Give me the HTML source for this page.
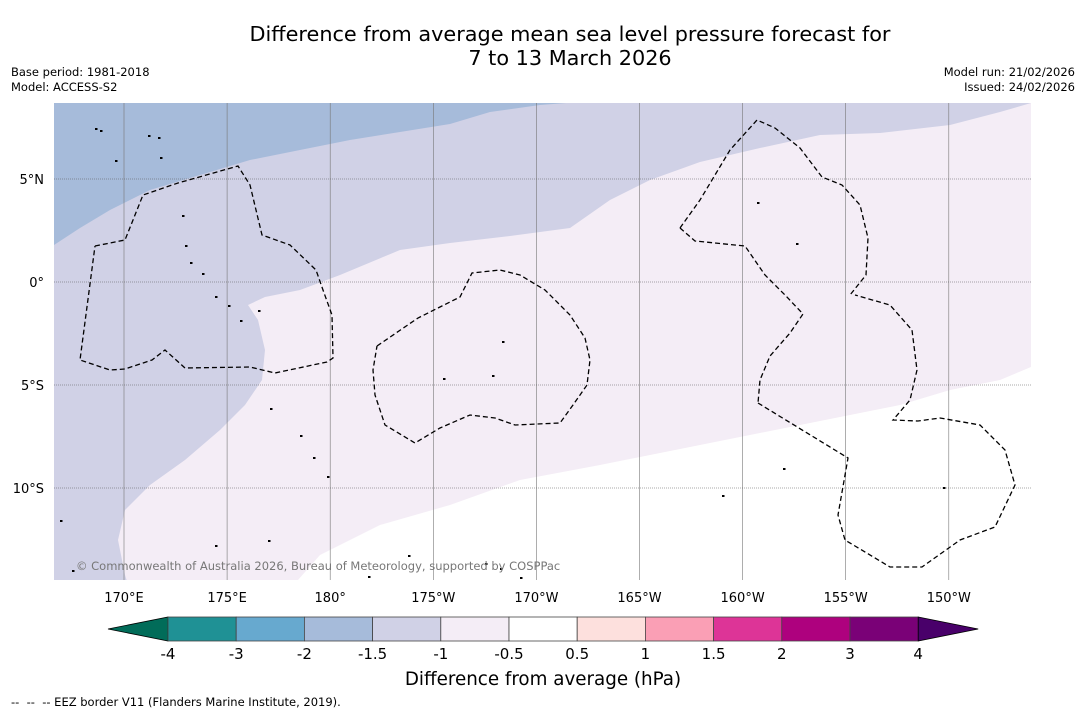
<!DOCTYPE html>
<html><head><meta charset="utf-8"><style>
body{margin:0;background:#fff;font-family:"DejaVu Sans","Liberation Sans",sans-serif;}
#wrap{position:relative;width:1085px;height:713px;overflow:hidden;background:#fff;}
.t{position:absolute;white-space:nowrap;color:#000;}
</style></head><body>
<div id="wrap">
<div class="t" style="left:0;width:1140px;top:22px;font-size:20.8px;text-align:center;line-height:24px;">Difference from average mean sea level pressure forecast for<br>7 to 13 March 2026</div>
<div class="t" style="left:11px;top:65px;font-size:11.5px;line-height:15px;">Base period: 1981-2018<br>Model: ACCESS-S2</div>
<div class="t" style="right:10px;top:65px;font-size:11.5px;line-height:15px;text-align:right;">Model run: 21/02/2026<br>Issued: 24/02/2026</div>
<svg id="svg" width="1085" height="713" style="position:absolute;left:0;top:0"></svg>
<div class="t" style="left:11px;top:695px;font-size:11.5px;">-- &nbsp;-- &nbsp;-- EEZ border V11 (Flanders Marine Institute, 2019).</div>
</div>
<script>
const NS="http://www.w3.org/2000/svg";
const svg=document.getElementById('svg');
const lonTicks=[170,175,180,185,190,195,200,205,210];
const lonLabels=["170°E","175°E","180°","175°W","170°W","165°W","160°W","155°W","150°W"];
const latTicks=[5,0,-5,-10];
const latLabels=["5°N","0°","5°S","10°S"];
const cbLevels=["-4","-3","-2","-1.5","-1","-0.5","0.5","1","1.5","2","3","4"];
const cbColors=["#1f9195","#67a9cf","#a6bbda","#d0d1e6","#f4edf6","#ffffff","#fde0dd","#fa9fb5","#dd3497","#ae017e","#7a0177"];
const cbLow="#016c59", cbHigh="#49006a";
const X0=54,X1=1031,Y0=103,Y1=580;
const sx=lon=>124+(lon-170)*20.62;
const sy=lat=>282-lat*20.6;
function el(tag,attrs,parent){const e=document.createElementNS(NS,tag);for(const k in attrs)e.setAttribute(k,attrs[k]);(parent||svg).appendChild(e);return e;}
const defs=el('defs',{});const cp=el('clipPath',{id:'mc'},defs);el('rect',{x:X0,y:Y0,width:X1-X0,height:Y1-Y0},cp);
const g=el('g',{'clip-path':'url(#mc)'});


// filled contour regions traced in map pixel space
const fills=[
 {c:"#ffffff",p:[[40,600],[1040,600],[1040,90],[40,90]]},
 {c:"#f4edf6",p:[[40,600],[298,600],[298,580],[320,555],[380,525],[450,505],[520,480],[600,465],[700,445],[800,425],[850,415],[900,405],[950,390],[1000,380],[1031,367],[1040,360],[1040,90],[40,90]]},
 {c:"#d0d1e6",p:[[40,600],[133,600],[125,575],[118,540],[125,510],[150,485],[185,460],[220,430],[245,405],[262,380],[265,350],[258,320],[248,305],[265,297],[300,290],[340,275],[400,250],[450,243],[510,236],[570,228],[610,200],[650,180],[700,162],[760,148],[820,135],[880,133],[950,125],[1000,112],[1031,103],[1040,90],[40,90]]},
 {c:"#a6bbda",p:[[40,90],[40,250],[54,245],[80,228],[110,210],[150,190],[200,175],[250,160],[300,150],[350,140],[400,132],[450,124],[490,112],[540,105],[605,100],[605,90]]},
];
fills.forEach((f,i)=>{const pg=el('polygon',{points:f.p.map(q=>q.join(',')).join(' '),fill:f.c},g);

});
lonTicks.forEach((l,i)=>{const ln=el('line',{x1:sx(l),x2:sx(l),y1:Y0,y2:Y1,stroke:'#777','stroke-width':0.6},g);
});
latTicks.forEach(l=>{const ln=el('line',{x1:X0,x2:X1,y1:sy(l),y2:sy(l),stroke:'#555','stroke-width':0.6,'stroke-dasharray':'1,1'},g);
});
const eez=[
 [[95,246],[125,240],[143,195],[178,183],[238,166],[250,185],[262,235],[290,245],[316,270],[323,290],[332,315],[333,358],[327,362],[275,373],[250,367],[185,368],[165,350],[152,360],[125,369],[110,370],[80,360],[95,246]],
 [[377,346],[418,318],[460,297],[472,273],[500,270],[520,275],[545,290],[570,315],[585,338],[590,360],[587,385],[573,405],[560,423],[515,425],[495,418],[470,415],[440,428],[415,443],[385,425],[375,395],[373,370],[377,346]],
 [[680,228],[700,200],[730,150],[757,120],[775,128],[800,148],[822,177],[842,185],[860,205],[868,238],[866,275],[850,295]],
 [[680,228],[695,241],[745,246],[765,275],[785,295],[803,314],[790,333],[770,356],[760,380],[758,403]],
 [[758,403],[848,458],[838,515],[845,540],[890,567],[922,567],[960,540],[995,527],[1015,485],[1005,450],[980,425],[940,418],[918,421],[893,420],[910,400],[917,370],[912,330],[890,305],[855,295]]
];
eez.forEach(p=>{const pl=el('polyline',{points:p.map(q=>q.join(',')).join(' '),fill:'none',stroke:'#000','stroke-width':1.3,'stroke-dasharray':'5,3'},g);
});
const isl=[[95,128],[100,130],[115,160],[148,135],[158,137],[160,157],[182,215],[185,245],[190,262],[202,273],[215,296],[228,305],[240,320],[258,310],[270,408],[300,435],[313,457],[327,476],[268,540],[215,545],[408,555],[485,563],[500,568],[520,577],[443,378],[492,375],[502,341],[722,495],[757,202],[796,243],[783,468],[943,487],[60,520],[72,570],[1025,580],[368,576]];
isl.forEach(q=>{const c=el('rect',{x:q[0],y:q[1],width:2.5,height:2,fill:'#000'},g);
});
const cr=el('text',{x:76,y:570,'font-size':11.5,fill:'#777','font-family':'DejaVu Sans, sans-serif'});cr.textContent='© Commonwealth of Australia 2026, Bureau of Meteorology, supported by COSPPac';

lonTicks.forEach((l,i)=>{const t=el('text',{x:sx(l),y:602,'font-size':13,'text-anchor':'middle','font-family':'DejaVu Sans, sans-serif'});t.textContent=lonLabels[i];
});
latTicks.forEach((l,i)=>{const t=el('text',{x:44,y:sy(l)+5,'font-size':13,'text-anchor':'end','font-family':'DejaVu Sans, sans-serif'});t.textContent=latLabels[i];
});
const cbX0=168,cbW=68.2,cbY=617,cbH=24;
const lt=el('polygon',{points:`108,629 ${cbX0},${cbY} ${cbX0},${cbY+cbH}`,fill:cbLow,stroke:'#000','stroke-width':0.8});

cbColors.forEach((c,i)=>{const r=el('rect',{x:cbX0+i*cbW,y:cbY,width:cbW,height:cbH,fill:c,stroke:'#444','stroke-width':0.8});
});
const xe=cbX0+cbColors.length*cbW;
const rt=el('polygon',{points:`${xe},${cbY} ${xe+60},629 ${xe},${cbY+cbH}`,fill:cbHigh,stroke:'#000','stroke-width':0.8});

cbLevels.forEach((lv,i)=>{const t=el('text',{x:cbX0+i*cbW,y:659,'font-size':15,'text-anchor':'middle','font-family':'DejaVu Sans, sans-serif'});t.textContent=lv;
});
const ct=el('text',{x:543,y:685,'font-size':18.3,'text-anchor':'middle','font-family':'DejaVu Sans, sans-serif'});ct.textContent='Difference from average (hPa)';

</script>
</body></html>
